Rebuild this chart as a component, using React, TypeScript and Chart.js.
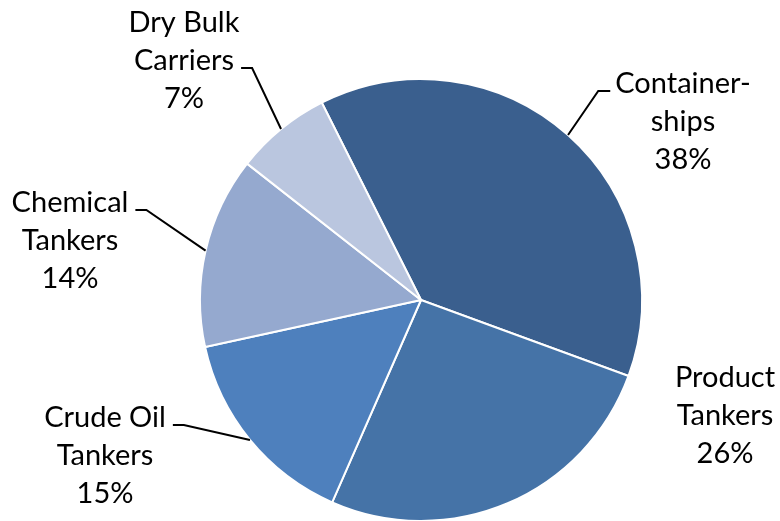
import React, { useEffect, useRef } from "react";
import { Chart, registerables } from "chart.js";

Chart.register(...registerables);

const categories = ["Container-ships", "Product Tankers", "Crude Oil Tankers", "Chemical Tankers", "Dry Bulk Carriers"];
const shares = [38, 26, 15, 14, 7];
const labelLines = [
  ["Container-", "ships"],
  ["Product", "Tankers"],
  ["Crude Oil", "Tankers"],
  ["Chemical", "Tankers"],
  ["Dry Bulk", "Carriers"],
];
const colors = ["#3A5F8E", "#4573A7", "#4E80BD", "#95A9CF", "#BAC6DF"];

// label layout: text block centre x / first baseline relative to pie centre, leader line index, side
const labelLayout = [
  { dx: 262, dy: -207, leader: 0, side: "left" },
  { dx: 304, dy: 87, leader: -1, side: "none" },
  { dx: -316, dy: 127, leader: 0, side: "right" },
  { dx: -351, dy: -88, leader: 0, side: "right" },
  { dx: -237, dy: -268, leader: 1, side: "right" },
];

const FONT = "29px Lato, 'Open Sans', sans-serif";
const LINE_H = 38;

const labelPlugin = {
  id: "outerLabels",
  afterDatasetsDraw(chart: any) {
    const ctx = chart.ctx;
    const meta = chart.getDatasetMeta(0);
    ctx.save();
    ctx.font = FONT;
    ctx.fillStyle = "#000";
    ctx.textAlign = "center";
    ctx.textBaseline = "alphabetic";
    meta.data.forEach((arc: any, i: number) => {
      const p = arc.getProps(["x", "y", "startAngle", "endAngle", "outerRadius"], true);
      const lay = labelLayout[i];
      const lines = [...labelLines[i], shares[i] + "%"];
      const cx = p.x + lay.dx;
      const by = p.y + lay.dy;
      lines.forEach((t, k) => ctx.fillText(t, cx, by + k * LINE_H));
      if (lay.leader >= 0) {
        const mid = (p.startAngle + p.endAngle) / 2;
        const ex = p.x + p.outerRadius * Math.cos(mid);
        const ey = p.y + p.outerRadius * Math.sin(mid);
        const w = ctx.measureText(lines[lay.leader]).width;
        const ly = by + lay.leader * LINE_H - 2;
        let hx0: number, hx1: number;
        if (lay.side === "left") {
          hx0 = cx - w / 2 - 5;
          hx1 = hx0 - 12;
        } else {
          hx0 = cx + w / 2 + 7;
          hx1 = hx0 + 11;
        }
        ctx.beginPath();
        ctx.strokeStyle = "#000";
        ctx.lineWidth = 2;
        ctx.moveTo(hx0, ly);
        ctx.lineTo(hx1, ly);
        ctx.lineTo(ex, ey);
        ctx.stroke();
      }
    });
    ctx.restore();
  },
};

export default function App() {
  const ref = useRef<HTMLCanvasElement>(null);
  useEffect(() => {
    const chart = new Chart(ref.current!, {
      type: "pie",
      data: {
        labels: categories,
        datasets: [
          {
            data: shares,
            backgroundColor: colors,
            borderColor: "#ffffff",
            borderWidth: 2,
          },
        ],
      },
      options: {
        animation: false,
        responsive: false,
        rotation: -26.7,
        radius: 221,
        layout: { padding: { top: 79, bottom: 0, left: 100, right: 38 } },
        plugins: { legend: { display: false }, tooltip: { enabled: false } },
      },
      plugins: [labelPlugin],
    });
    return () => chart.destroy();
  }, []);
  return (
    <div style={{ position: "fixed", left: 0, top: 0, width: 780, height: 521, background: "#fff" }}>
      <canvas ref={ref} width={780} height={521} />
    </div>
  );
}
